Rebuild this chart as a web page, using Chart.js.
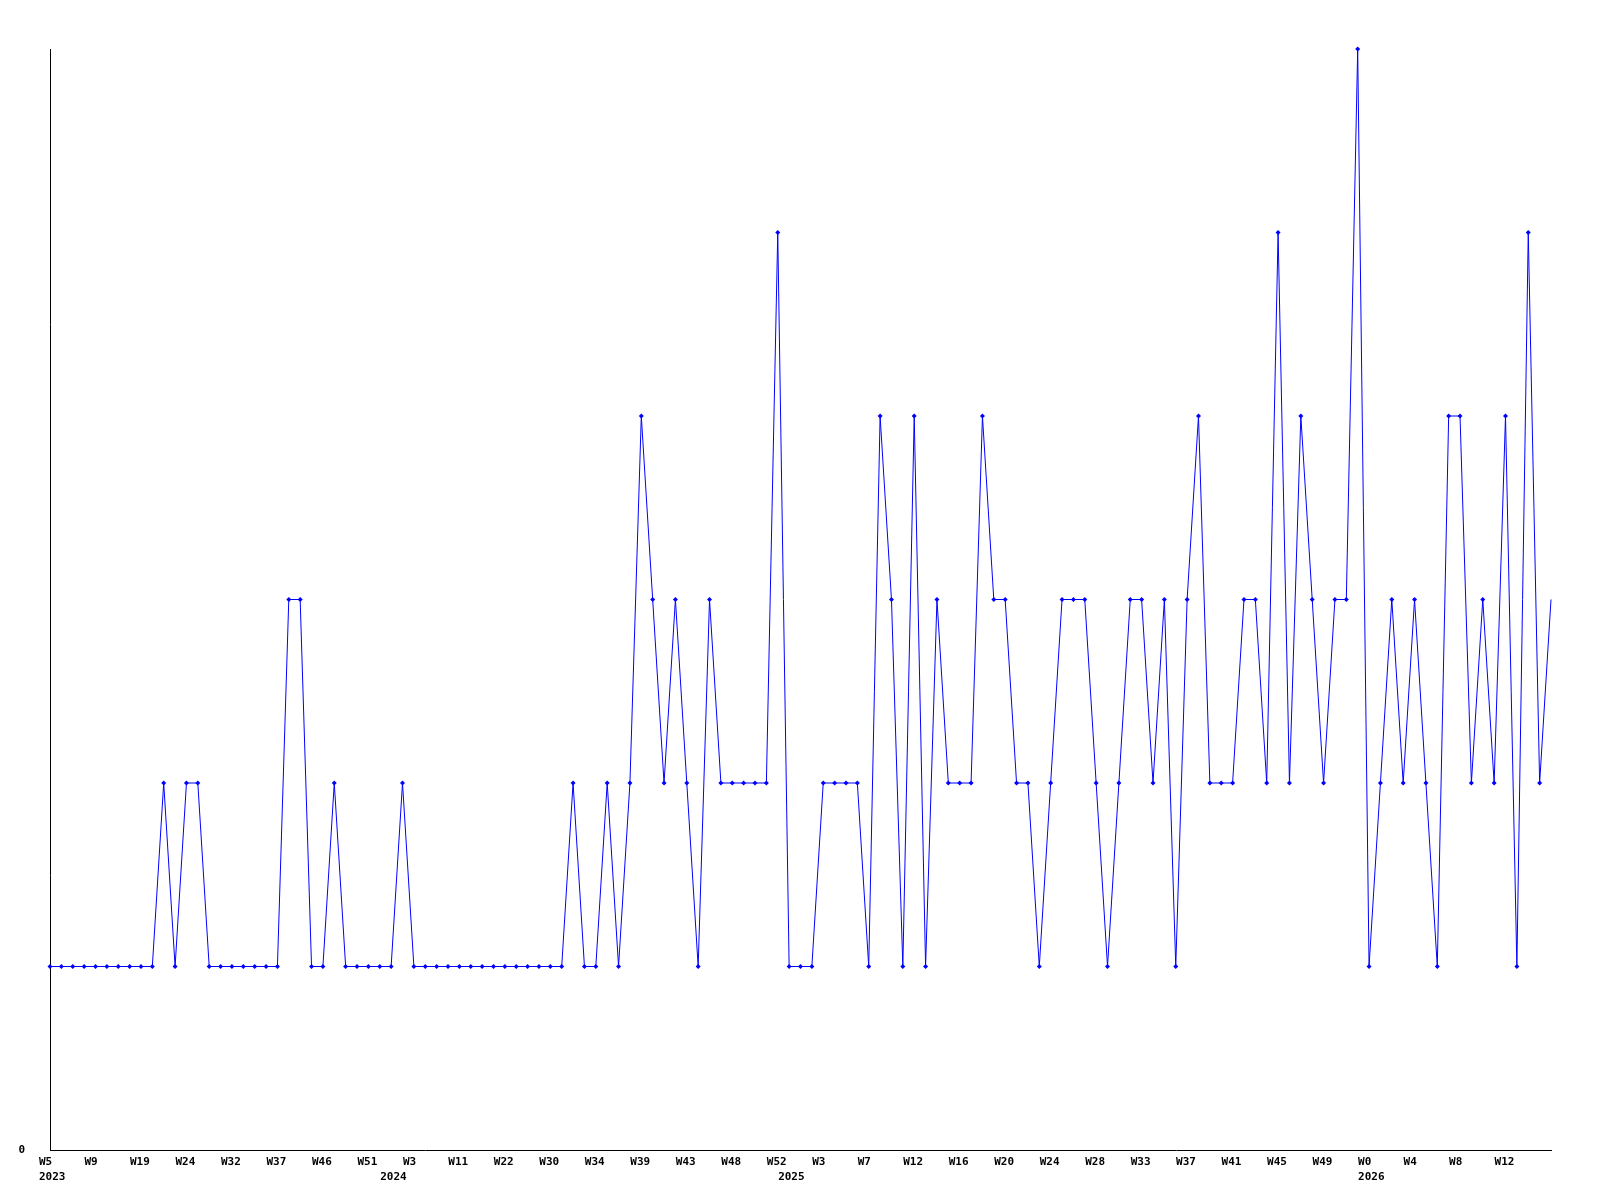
<html>
<head>
<script src="https://cdn.jsdelivr.net/npm/chart.js@4/dist/chart.umd.min.js"></script>
<style>
body { margin: 0; background: #fff; }
</style>
</head>
<body>
<canvas id="myChart" width="1600" height="1200"></canvas>
<script>
// one value per week
var values = [
  1,1,1,1,1,1,1,1,1,1, 2,1,2,2,1,1,1,1,1,1,
  1,3,3,1,1,2,1,1,1,1, 1,2,1,1,1,1,1,1,1,1,
  1,1,1,1,1,1,2,1,1,2, 1,2,4,3,2,3,2,1,3,2,
  2,2,2,2,5,1,1,1,2,2, 2,2,1,4,3,1,4,1,3,2,
  2,2,4,3,3,2,2,1,2,3, 3,3,2,1,2,3,3,2,3,1,
  3,4,2,2,2,3,3,2,5,2, 4,3,2,3,3,6,1,2,3,2,
  3,2,1,4,4,2,3,2,4,1, 5,2,3
];
// week labels shown every 4th point
var weekTicks = ['W5','W9','W19','W24','W32','W37','W46','W51','W3','W11','W22','W30','W34',
  'W39','W43','W48','W52','W3','W7','W12','W16','W20','W24','W28','W33','W37','W41',
  'W45','W49','W0','W4','W8','W12'];
// point index where each year starts
var yearIndex = [0, 30, 65, 116];
var yearLabels = ['2023', '2024', '2025', '2026'];

var labels = values.map(function(v, i) {
  var week = (i % 4 == 0 && weekTicks[i / 4]) ? weekTicks[i / 4] : '';
  var y = yearIndex.indexOf(i);
  if (y >= 0) return [week, yearLabels[y]];
  return week;
});

var tickFont = { family: 'DejaVu Sans Mono', weight: 'bold', size: 11, lineHeight: '15px' };
var ctx = document.getElementById('myChart').getContext('2d');
var myChart = new Chart(ctx, {
  type: 'line',
  data: {
    labels: labels,
    datasets: [{
      data: values,
      borderColor: '#0000ff',
      backgroundColor: '#0000ff',
      borderWidth: 1,
      tension: 0,
      clip: false,
      pointStyle: 'rectRot',
      pointRadius: function(c) { return c.dataIndex == values.length - 1 ? 0 : 2.5; },
      pointBorderWidth: 0
    }]
  },
  options: {
    responsive: false,
    animation: false,
    layout: { padding: { top: 49, right: 49, left: 0, bottom: 0 } },
    plugins: { legend: { display: false }, tooltip: { enabled: false } },
    scales: {
      x: {
        grid: { display: false, drawTicks: false },
        border: { color: '#000', width: 1 },
        afterFit: function(axis) { axis.height = 50; },
        ticks: {
          autoSkip: false, maxRotation: 0, minRotation: 0,
          align: 'start', labelOffset: -11, padding: 5,
          color: '#000', font: tickFont
        }
      },
      y: {
        min: 0, max: 6,
        grid: { display: false, drawTicks: false },
        border: { color: '#000', width: 1 },
        afterFit: function(axis) { axis.width = 50; },
        ticks: {
          stepSize: 1, padding: 25, color: '#000', font: tickFont,
          callback: function(v) { return v === 0 ? '0' : ''; }
        }
      }
    }
  }
});
</script>
</body>
</html>
